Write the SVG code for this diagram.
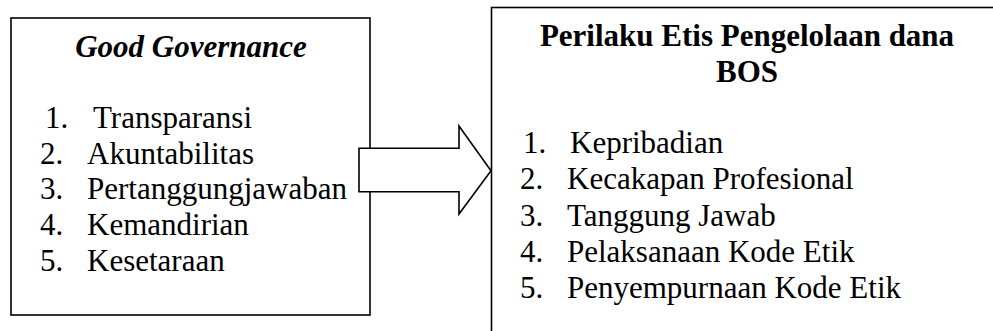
<svg xmlns="http://www.w3.org/2000/svg" width="993" height="331" viewBox="0 0 993 331">
<style>
.box{fill:#fff;stroke:#000;stroke-width:1.6}
text{font-family:'Times New Roman','Liberation Serif',Tinos,serif;font-size:31px;fill:#000}
.h{font-weight:bold}
.i{font-style:italic}
.c{text-anchor:middle}
</style>
<rect width="993" height="331" fill="#fff"/>
<g id="good-governance">
<rect class="box" x="11" y="18" width="359" height="297"/>
<text class="h i c" x="191" y="57">Good Governance</text>
<text x="45" y="128">1.</text><text x="93" y="128">Transparansi</text>
<text x="40" y="164">2.</text><text x="87" y="164">Akuntabilitas</text>
<text x="40" y="199">3.</text><text x="87" y="199">Pertanggungjawaban</text>
<text x="40" y="235">4.</text><text x="87" y="235">Kemandirian</text>
<text x="40" y="271">5.</text><text x="87" y="271">Kesetaraan</text>
</g>
<g id="perilaku-etis">
<rect class="box" x="491.5" y="7.5" width="520" height="340"/>
<text class="h c" x="747" y="46">Perilaku Etis Pengelolaan dana</text>
<text class="h c" x="747" y="82">BOS</text>
<text x="523" y="153">1.</text><text x="570" y="153">Kepribadian</text>
<text x="520" y="189">2.</text><text x="567" y="189">Kecakapan Profesional</text>
<text x="520" y="226">3.</text><text x="567" y="226">Tanggung Jawab</text>
<text x="520" y="262">4.</text><text x="567" y="262">Pelaksanaan Kode Etik</text>
<text x="520" y="298">5.</text><text x="567" y="298">Penyempurnaan Kode Etik</text>
</g>
<g id="connectors">
<path class="box" d="M359,148.3 H459 V126 L491,170.7 L459,214 V191.7 H359 Z"/>
</g>
</svg>
